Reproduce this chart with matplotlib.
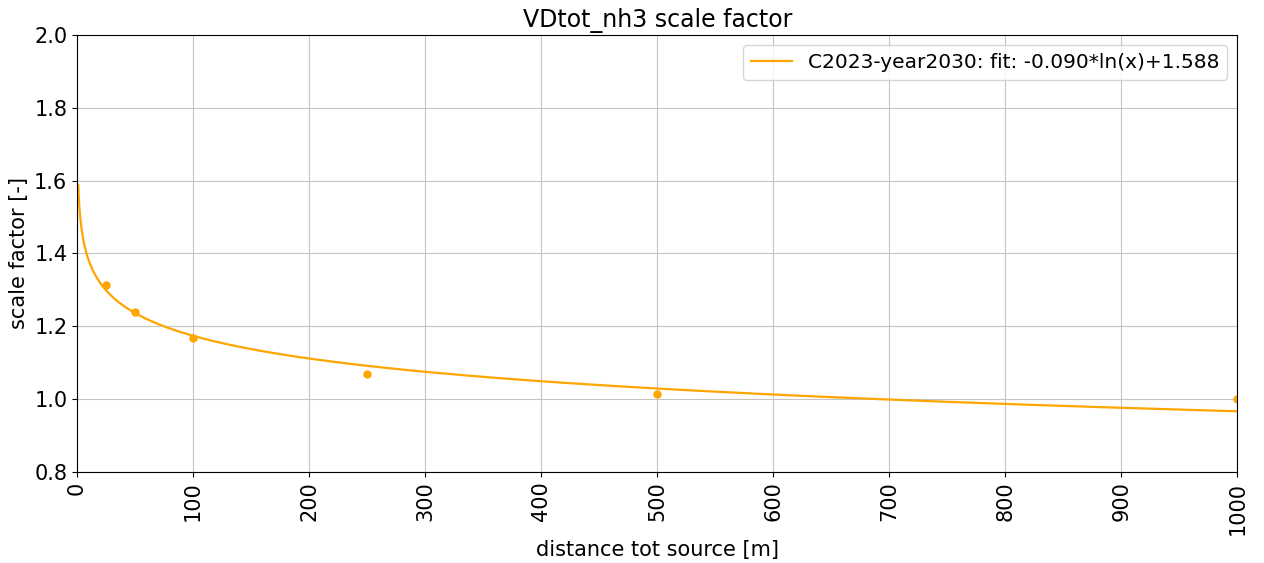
import numpy as np
import matplotlib
matplotlib.use("Agg")
import matplotlib.pyplot as plt

# measured scale factors per distance
distance = [25, 50, 100, 250, 500, 1000]
scale = [1.313, 1.240, 1.168, 1.069, 1.014, 1.000]

# log fit coefficients
fit_a = -0.090
fit_b = 1.588
label = f"C2023-year2030: fit: {fit_a:.3f}*ln(x)+{fit_b:.3f}"

plt.rcParams['font.size'] = 15

fig = plt.figure(figsize=(12.64, 5.63), dpi=100)
ax = fig.add_axes([0.061, 0.162, 0.918, 0.776])

xs = np.linspace(1, 1000, 2000)
ax.plot(xs, fit_a * np.log(xs) + fit_b, color='orange', lw=1.6, label=label)
ax.plot(distance, scale, 'o', color='orange', ms=5)

ax.set_xlim(0, 1000)
ax.set_ylim(0.8, 2.0)
ax.set_xticks(range(0, 1001, 100))
ax.set_yticks(np.arange(0.8, 2.01, 0.2))
plt.setp(ax.get_xticklabels(), rotation=90)
ax.grid(True, color='#c4c4c4')
ax.set_xlabel("distance tot source [m]")
ax.set_ylabel("scale factor [-]")
ax.set_title("VDtot_nh3 scale factor", fontsize=17)
ax.legend(loc='upper right', fontsize=14.5)

fig.savefig("out.png", dpi=100)
